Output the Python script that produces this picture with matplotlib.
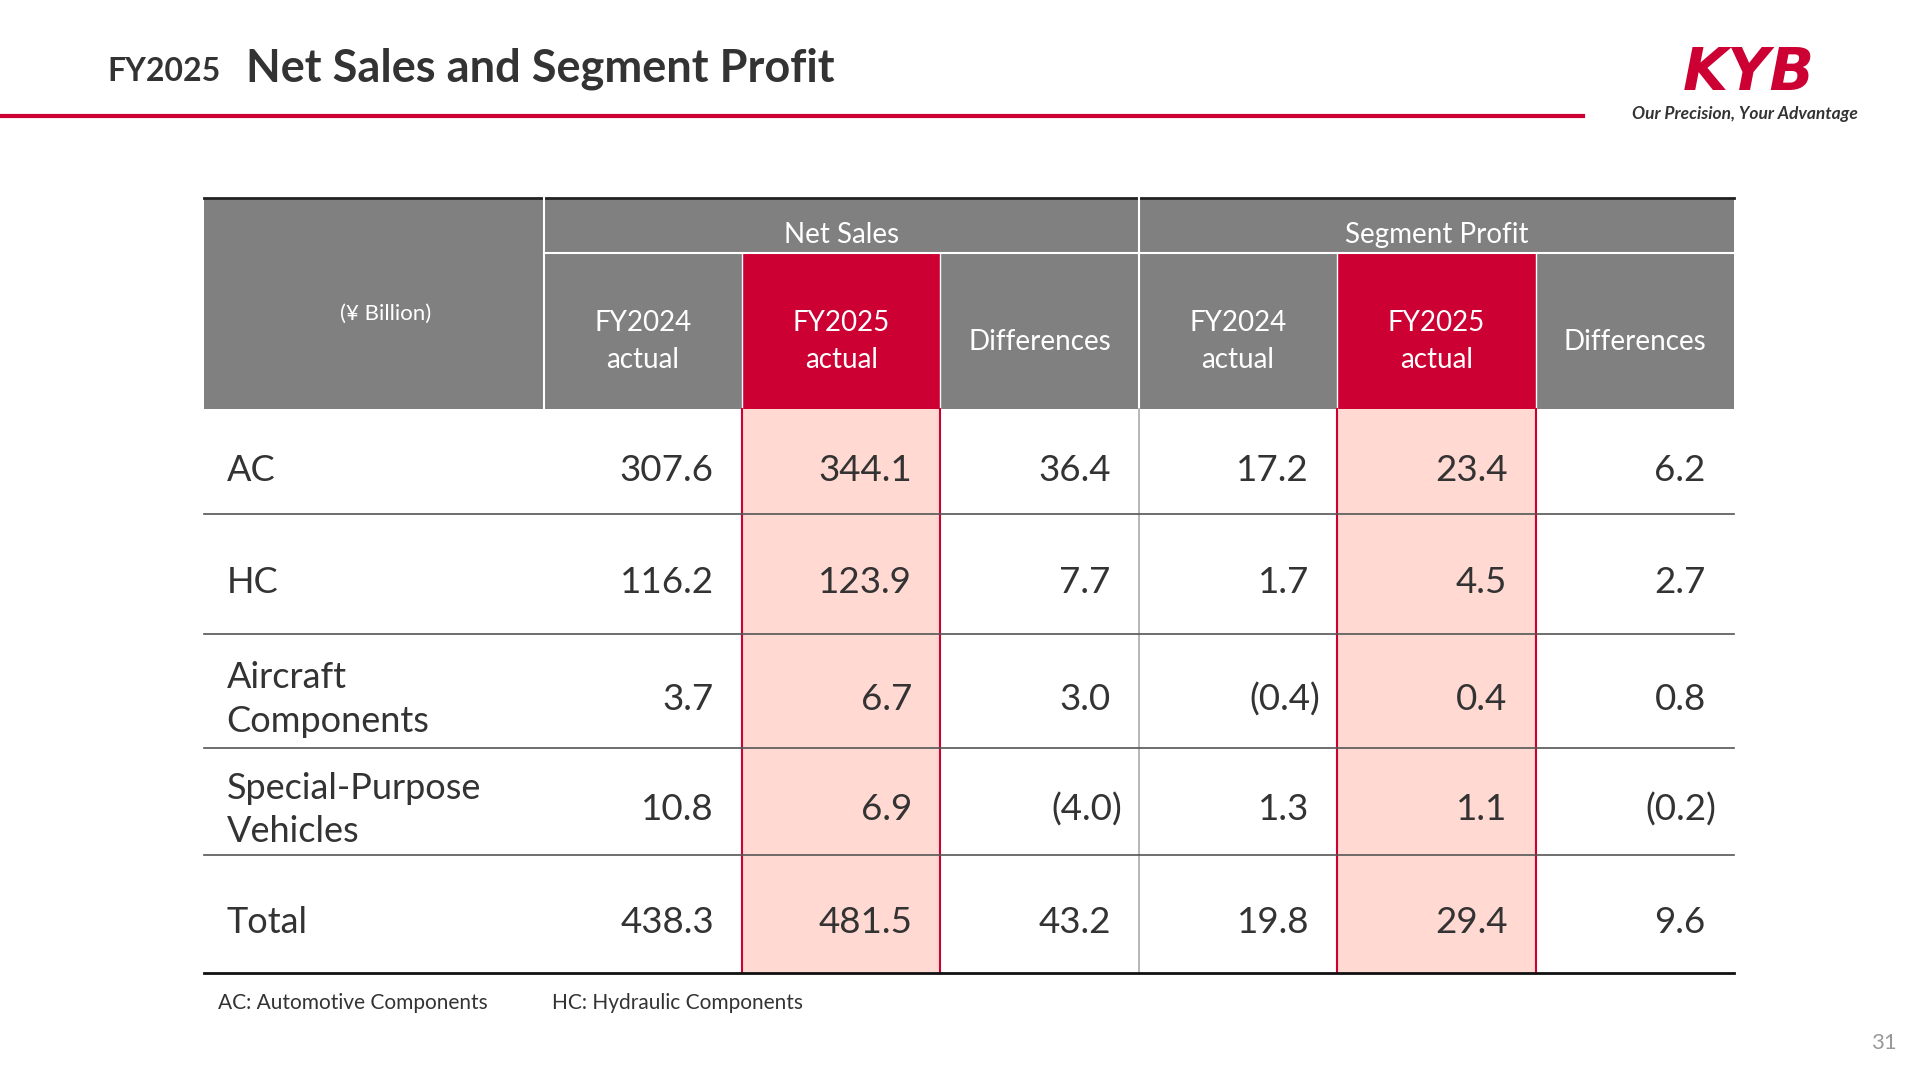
import matplotlib
matplotlib.use("Agg")
import matplotlib.pyplot as plt
from matplotlib.patches import Rectangle

plt.rcParams["font.family"] = ["Lato", "DejaVu Sans"]

RED = "#CC0033"
PINK = "#FFD9D2"
GRAY = "#808080"
TXT = "#333333"

segments = ["AC", "HC", "Aircraft\nComponents", "Special-Purpose\nVehicles", "Total"]
sales_fy24 = [307.6, 116.2, 3.7, 10.8, 438.3]
sales_fy25 = [344.1, 123.9, 6.7, 6.9, 481.5]
sales_diff = [36.4, 7.7, 3.0, -4.0, 43.2]
profit_fy24 = [17.2, 1.7, -0.4, 1.3, 19.8]
profit_fy25 = [23.4, 4.5, 0.4, 1.1, 29.4]
profit_diff = [6.2, 2.7, 0.8, -0.2, 9.6]
sub_headers = ["FY2024\nactual", "FY2025\nactual", "Differences"] * 2

cols = [167, 444, 606, 768, 930, 1092, 1254, 1416]
rows = [334, 420, 518, 611, 698, 795]

fig = plt.figure(figsize=(19.2, 10.8), dpi=100)
ax = fig.add_axes([0, 0, 1, 1])
ax.set_xlim(0, 1568)
ax.set_ylim(882, 0)
ax.axis("off")

# title
ax.text(88, 58, "FY2025", fontsize=23, fontweight="bold", color=TXT, va="center")
ax.text(201, 56, "Net Sales and Segment Profit", fontsize=32.5, fontweight="bold", color=TXT, va="center")
ax.plot([0, 1293], [95, 95], color=RED, lw=3)
ax.text(1428, 60, "KYB", fontsize=42, fontweight="heavy", style="italic", color=RED,
        ha="center", va="center", family=["DejaVu Sans"])
ax.text(1425, 93, "Our Precision, Your Advantage", fontsize=12.5, fontweight="bold",
        style="italic", color=TXT, ha="center", va="center")

# header
ax.add_patch(Rectangle((cols[0], 162), cols[-1] - cols[0], 334 - 162, color=GRAY, lw=0))
for c in (2, 5):
    ax.add_patch(Rectangle((cols[c], 207), cols[c + 1] - cols[c], 334 - 207, color=RED, lw=0))
ax.plot([cols[0], cols[-1]], [162, 162], color="#222222", lw=2)
ax.plot([cols[1], cols[-1]], [207, 207], color="white", lw=1.5)
for x in (cols[1], cols[4]):
    ax.plot([x, x], [162, 334], color="white", lw=1.5)
for x in (cols[2], cols[3], cols[5], cols[6]):
    ax.plot([x, x], [207, 334], color="white", lw=1)
ax.text(315, 256, "(¥ Billion)", fontsize=16, color="white", ha="center", va="center")
ax.text((cols[1] + cols[4]) / 2, 192, "Net Sales", fontsize=20, color="white", ha="center", va="center")
ax.text((cols[4] + cols[7]) / 2, 192, "Segment Profit", fontsize=20, color="white", ha="center", va="center")
for i, h in enumerate(sub_headers):
    ax.text((cols[i + 1] + cols[i + 2]) / 2, 279, h, fontsize=20, color="white",
            ha="center", va="center", linespacing=1.5)

# body
for c in (2, 5):
    ax.add_patch(Rectangle((cols[c], rows[0]), cols[c + 1] - cols[c], rows[-1] - rows[0], color=PINK, lw=0))
    for x in (cols[c], cols[c + 1]):
        ax.plot([x, x], [rows[0], rows[-1]], color=RED, lw=1.5)
ax.plot([cols[4], cols[4]], [rows[0], rows[-1]], color="#AAAAAA", lw=1.2)
for y in rows[1:-1]:
    ax.plot([cols[0], cols[-1]], [y, y], color="#555555", lw=1.2)
ax.plot([cols[0], cols[-1]], [rows[-1], rows[-1]], color="#111111", lw=2)


def fmt(v):
    return f"({abs(v):.1f})" if v < 0 else f"{v:.1f}"


series = [sales_fy24, sales_fy25, sales_diff, profit_fy24, profit_fy25, profit_diff]
for r, name in enumerate(segments):
    yc = (rows[r] + rows[r + 1]) / 2 + 7
    ax.text(185, yc, name, fontsize=26, color=TXT, va="center", linespacing=1.4)
    for j, s in enumerate(series):
        v = s[r]
        xr = cols[j + 2] - 23 + (9 if v < 0 else 0)
        ax.text(xr, yc, fmt(v), fontsize=26.5, color=TXT, ha="right", va="center")

ax.text(178, 819, "AC: Automotive Components", fontsize=15, color=TXT, va="center")
ax.text(451, 819, "HC: Hydraulic Components", fontsize=15, color=TXT, va="center")
ax.text(1549, 852, "31", fontsize=16, color="#999999", ha="right", va="center")

fig.savefig("out.png", dpi=100)
